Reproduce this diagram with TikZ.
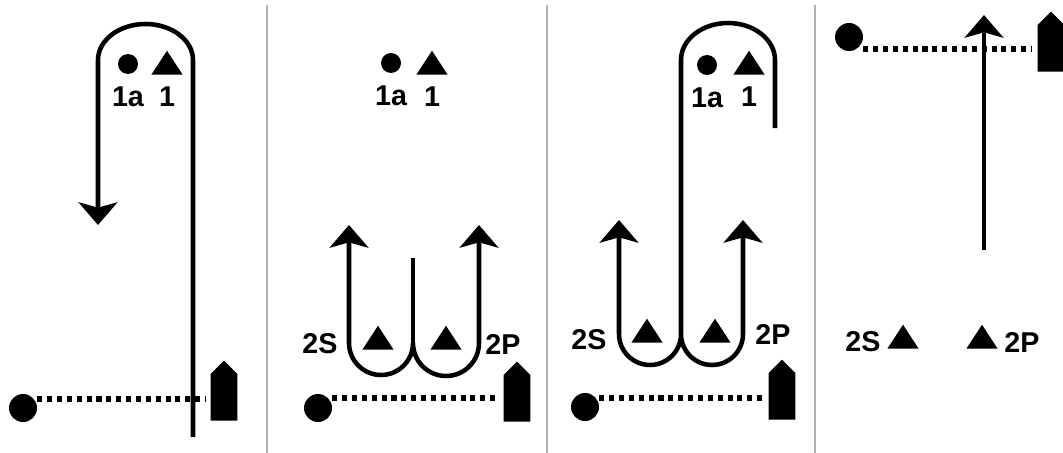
\documentclass[tikz,border=0pt]{standalone}
\usepackage{fontspec}
\setmainfont{Liberation Sans}
\usetikzlibrary{positioning,calc,shapes.geometric,shapes.symbols,arrows.meta}

\begin{document}
\begin{tikzpicture}[x=0.75pt,y=-0.75pt,
    route/.style={line width=3.4pt},
    lead/.style={line width=3.4pt,-{Stealth[length=17pt,width=29pt,inset=4pt]}},
    twin/.style={line width=3.4pt,{Stealth[length=17pt,width=29pt,inset=4pt]}-{Stealth[length=17pt,width=29pt,inset=4pt]}},
    pathline/.style={line width=3.8pt,dash pattern=on 3.8pt off 3.6pt},
    ball/.style={circle,fill,inner sep=0pt,minimum size=21pt},
    runner/.style={circle,fill,inner sep=0pt,minimum size=15pt},
    cone/.style={isosceles triangle,isosceles triangle stretches,shape border rotate=90,fill,inner sep=0pt,minimum width=23.5pt,minimum height=18pt},
    plate/.style={signal,signal to=north,fill,inner sep=0pt,minimum width=20pt,minimum height=35pt},
    tag/.style={font=\bfseries\fontsize{21.5}{21.5}\selectfont,inner sep=0pt},
    divider/.style={line width=1.6pt,gray!60}]

    \useasboundingbox (0,0) rectangle (1063,453);

    \foreach \xx in {267,547,815}{
        \draw[divider] (\xx,5) -- (\xx,453);
    }

    % ball, plate and the dotted path in each field
    \foreach \nm/\bx/\by/\ly/\px/\py in {A/23/408/399/224/421,B/318/408/398/517/422,C/585/407/398/782/420,D/849/37/49/1051/72}{
        \node[ball] (ball\nm) at (\bx,\by) {};
        \node[plate,anchor=south] (plate\nm) at (\px,\py) {};
        \draw[pathline,shorten >=4pt] (ball\nm.east |- 0,\ly) -- (plate\nm.west |- 0,\ly);
    }

    % field A
    \node[runner] (runA) at (128,64) {};
    \node[cone,anchor=south] (coneA) at (167,75) {};
    \node[tag,below=9pt of runA] {1a};
    \node[tag,below=8.5pt of coneA] {1};
    \draw[lead] (193,437) -- (193,60) arc[start angle=0,end angle=-180,x radius=47.5,y radius=36] -- (98,225);

    % field B
    \node[runner] (runB) at (391,63) {};
    \node[cone,anchor=south] (coneB) at (432,75) {};
    \node[tag,below=9pt of runB] {1a};
    \node[tag,below=8.5pt of coneB] {1};
    \draw[twin] (349,225) -- (349,343) arc[start angle=180,end angle=0,radius=32] arc[start angle=180,end angle=0,radius=33] -- (479,225);
    \draw[route] (413,258) -- (413,343);
    \node[cone,anchor=south] (coneBs) at (378,350) {};
    \node[cone,anchor=south] (coneBp) at (446,350) {};
    \node[tag] at (320,344) {2S};
    \node[tag] at (503,344) {2P};

    % field C
    \node[runner] (runC) at (707,65) {};
    \node[cone,anchor=south] (coneC) at (749,75) {};
    \node[tag,below=9pt of runC] {1a};
    \node[tag,below=8.5pt of coneC] {1};
    \draw[route] (775,128) -- (775,60) arc[start angle=0,end angle=-180,x radius=47,y radius=37] -- (681,334);
    \draw[twin] (619,220) -- (619,334) arc[start angle=180,end angle=0,radius=31] arc[start angle=180,end angle=0,radius=31] -- (743,220);
    \node[cone,anchor=south] (coneCs) at (647,343) {};
    \node[cone,anchor=south] (coneCp) at (715,343) {};
    \node[tag] at (589,340) {2S};
    \node[tag] at (773,334) {2P};

    % field D
    \draw[lead] (984,250) -- (984,15);
    \node[cone,anchor=south] (coneDs) at (903,349) {};
    \node[cone,anchor=south] (coneDp) at (982,349) {};
    \node[tag] at (863,342) {2S};
    \node[tag] at (1022,342) {2P};

\end{tikzpicture}
\end{document}
